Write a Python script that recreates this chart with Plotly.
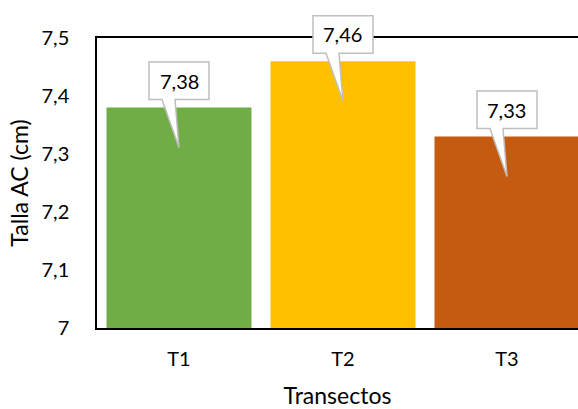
import plotly.graph_objects as go

# Mean length per transect
categories = ["T1", "T2", "T3"]
talla = [7.38, 7.46, 7.33]
value_labels = ["7,38", "7,46", "7,33"]
bar_colors = ["#70AD47", "#FFC000", "#C55A11"]

y_tickvals = [7.0, 7.1, 7.2, 7.3, 7.4, 7.5]
y_ticktext = ["7", "7,1", "7,2", "7,3", "7,4", "7,5"]

FONT = "Lato, 'Open Sans', sans-serif"
X_RANGE = [-0.5, 2.433]
Y_RANGE = [7.0, 7.5]

fig = go.Figure(
    go.Bar(
        x=list(range(len(categories))),
        y=talla,
        base=0,
        marker=dict(color=bar_colors, line=dict(width=0)),
        hoverinfo="skip",
    )
)

# Callout outline (pixel offsets relative to the bar top): box above the bar,
# pointer dropping down into the bar.
BOX_W, BOX_BOTTOM, BOX_TOP = 60, 8, 45.5
callout_path = (
    f"M {-BOX_W/2},{BOX_BOTTOM} L {-BOX_W/2},{BOX_TOP} L {BOX_W/2},{BOX_TOP} "
    f"L {BOX_W/2},{BOX_BOTTOM} L -4,{BOX_BOTTOM} L 0,-40 L -17,{BOX_BOTTOM} Z"
)


def x_frac(x):
    return (x - X_RANGE[0]) / (X_RANGE[1] - X_RANGE[0])


def y_frac(y):
    return (y - Y_RANGE[0]) / (Y_RANGE[1] - Y_RANGE[0])


for i, (v, lab) in enumerate(zip(talla, value_labels)):
    # domain references keep the callout from being clipped at the plot edge
    fig.add_shape(
        type="path",
        xref="x domain", yref="y domain",
        xsizemode="pixel", ysizemode="pixel",
        xanchor=x_frac(i), yanchor=y_frac(v),
        path=callout_path,
        fillcolor="white",
        line=dict(color="#BFBFBF", width=1.5),
        layer="above",
    )
    fig.add_annotation(
        x=i, y=v, xref="x", yref="y",
        text=lab, showarrow=False,
        yshift=(BOX_BOTTOM + BOX_TOP) / 2,
        font=dict(family=FONT, size=20, color="#000000"),
    )

fig.update_layout(
    width=578, height=409,
    margin=dict(l=97, r=0, t=38, b=81),
    paper_bgcolor="white",
    plot_bgcolor="white",
    showlegend=False,
    bargap=0.116,
    separators=",.",
    font=dict(family=FONT, size=20, color="#000000"),
)

fig.update_xaxes(
    range=X_RANGE,
    tickvals=list(range(len(categories))),
    ticktext=categories,
    showgrid=False, zeroline=False,
    showline=True, linecolor="#000000", linewidth=1.5, mirror=True,
    ticks="", ticklabelstandoff=12,
    tickfont=dict(family=FONT, size=20),
    title=dict(text="Transectos", font=dict(family=FONT, size=23), standoff=24),
)

fig.update_yaxes(
    range=Y_RANGE,
    tickvals=y_tickvals,
    ticktext=y_ticktext,
    showgrid=False, zeroline=False,
    showline=True, linecolor="#000000", linewidth=1.5,
    ticks="", ticklabelstandoff=22,
    tickfont=dict(family=FONT, size=20),
    title=dict(text="Talla AC (cm)", font=dict(family=FONT, size=23), standoff=6),
)

fig.write_html("out.html")
